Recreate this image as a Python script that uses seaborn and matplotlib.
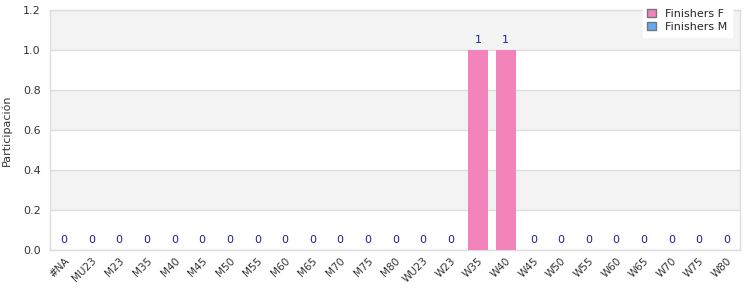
import matplotlib
matplotlib.use("Agg")
import matplotlib.pyplot as plt
import seaborn as sns
import pandas as pd
import numpy as np
from matplotlib.patches import Patch

categories = ["#NA", "MU23", "M23", "M35", "M40", "M45", "M50", "M55", "M60", "M65",
              "M70", "M75", "M80", "WU23", "W23", "W35", "W40", "W45", "W50", "W55",
              "W60", "W65", "W70", "W75", "W80"]
finishers_f = [0, 0, 0, 0, 0, 0, 0, 0, 0, 0, 0, 0, 0, 0, 0, 1, 1, 0, 0, 0, 0, 0, 0, 0, 0]
finishers_m = [0] * 25
yticks = [0.0, 0.2, 0.4, 0.6, 0.8, 1.0, 1.2]

sns.set_theme(style="white")
plt.rcParams['font.family'] = ['DejaVu Sans']

fig = plt.figure(figsize=(7.5, 3.0), dpi=100)
ax = fig.add_axes([0.067, 0.167, 0.92, 0.8])

df = pd.DataFrame({"cat": categories, "F": finishers_f, "M": finishers_m})
df["total"] = df["F"] + df["M"]

pink = "#f383bb"
blue = "#64aaf0"

for i in range(0, 6):
    lo, hi = yticks[i], yticks[i + 1]
    if i % 2 == 1:
        ax.axhspan(lo, hi, color="#f3f3f3", zorder=0, lw=0)

sns.barplot(data=df, x="cat", y="total", color=blue, width=0.72, ax=ax, zorder=2,
            saturation=1, linewidth=0, edgecolor="none")
sns.barplot(data=df, x="cat", y="F", color=pink, width=0.72, ax=ax, zorder=3,
            saturation=1, linewidth=0, edgecolor="none")

for i, t in enumerate(df["total"]):
    ax.text(i, t + 0.025, f"{t:g}", ha="center", va="bottom", fontsize=8, color="#1f1f99", zorder=5)

ax.set_ylim(0, 1.2)
ax.set_xlim(-0.5, len(categories) - 0.5)
ax.set_yticks(yticks)
ax.set_yticklabels([f"{v:.1f}" for v in yticks], fontsize=8, color="#333333")
ax.yaxis.grid(True, color="#dddddd", lw=1, zorder=1)
ax.set_axisbelow(True)
ax.tick_params(axis="x", labelsize=7.5, labelcolor="#333333", length=0, pad=4)
ax.set_xticks(range(len(categories)))
ax.set_xticklabels(categories, rotation=45, ha="right", rotation_mode="anchor")
ax.tick_params(axis="y", length=0, pad=7)
ax.set_xlabel("")
ax.set_ylabel("Participación", fontsize=8, color="#333333", labelpad=8)
for s in ax.spines.values():
    s.set_color("#dddddd")
    s.set_linewidth(1)

handles = [Patch(facecolor=pink, edgecolor="#777777", label="Finishers F"),
           Patch(facecolor=blue, edgecolor="#777777", label="Finishers M")]
leg = fig.legend(handles=handles, loc="upper right", bbox_to_anchor=(0.983, 1.005), fontsize=8,
                 frameon=True, fancybox=False, framealpha=1, edgecolor="white",
                 handlelength=0.8, handleheight=0.8, borderpad=0.4, labelspacing=0.3)
leg.set_zorder(10)

fig.savefig("out.png", dpi=100)
